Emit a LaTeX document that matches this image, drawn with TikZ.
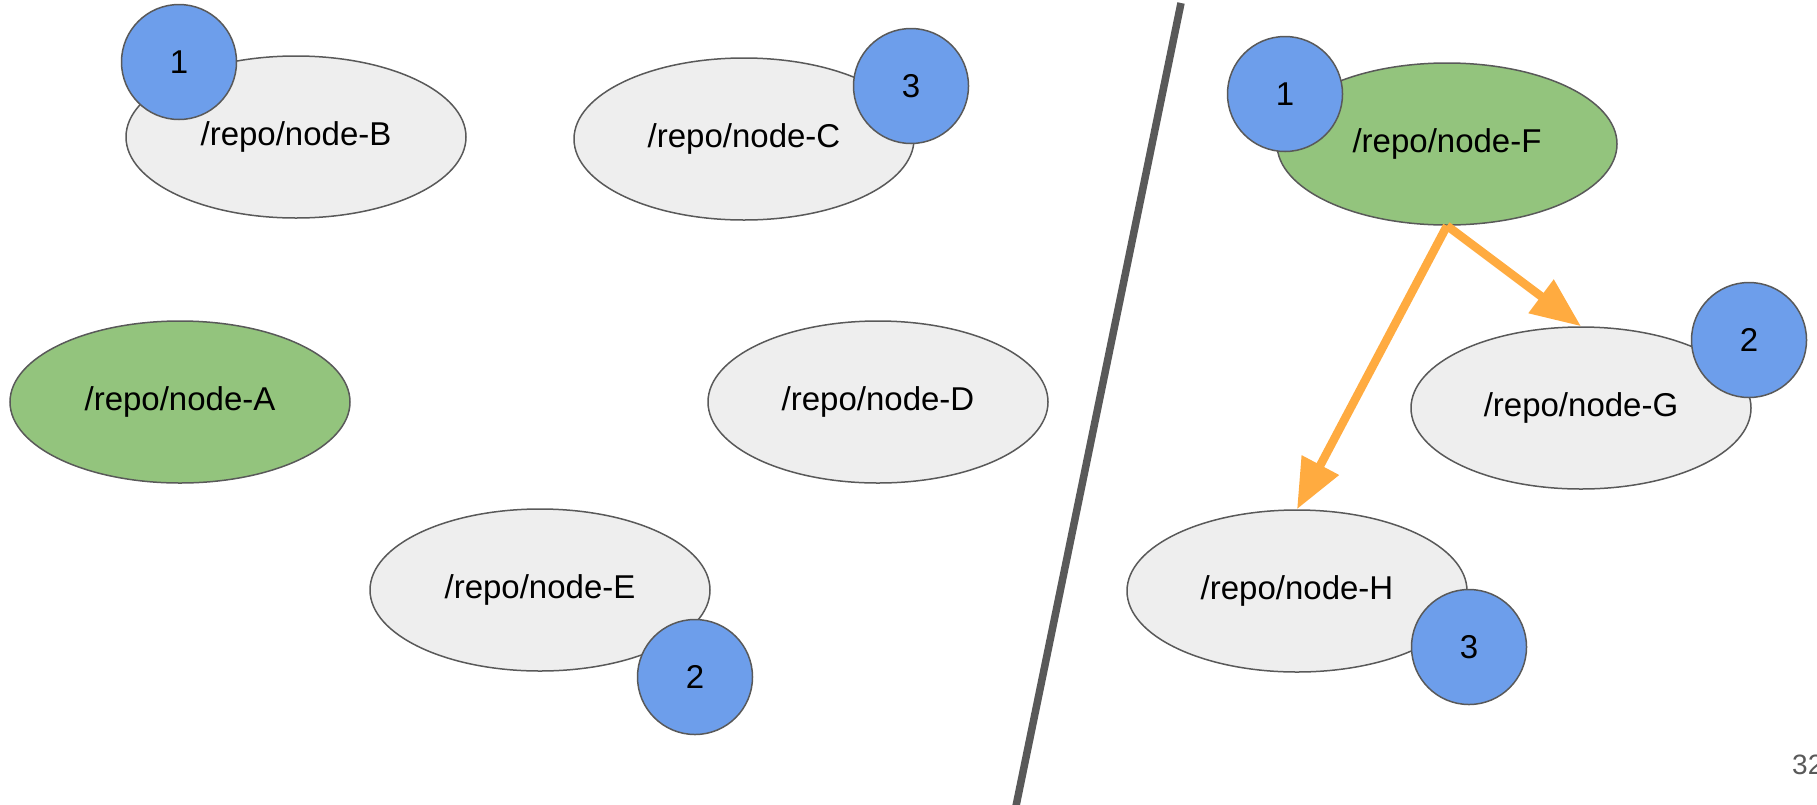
\documentclass[tikz,border=0pt]{standalone}
\usepackage{fontspec}
\setmainfont{Liberation Sans}
\usepackage{tikz}
\usetikzlibrary{arrows.meta,shapes.geometric}
\definecolor{gfill}{HTML}{EEEEEE}
\definecolor{gline}{HTML}{595959}
\definecolor{grn}{HTML}{93C47D}
\definecolor{blu}{HTML}{6D9EEB}
\definecolor{org}{HTML}{FFAB40}
\tikzset{
  nd/.style  ={ellipse,draw=gline,line width=1.5pt,fill=gfill,minimum width=340pt,minimum height=162pt,inner sep=0pt,font=\fontsize{33}{40}\selectfont},
  hot/.style ={nd,fill=grn},
  num/.style ={circle,draw=gline,line width=1.5pt,fill=blu,minimum size=115pt,inner sep=0pt,font=\fontsize{33}{40}\selectfont},
  divider/.style={gline,line width=7.5pt},
  ar/.style={-{Triangle[length=50pt,width=40pt]},draw=org,line width=8.5pt},
}

\begin{document}
\begin{tikzpicture}[x=1pt,y=-1pt]
  \useasboundingbox (0,0) rectangle (1817,804);
  % left half
  \node[hot] (nA) at (180,402){/repo/node-A};
  \node[nd]  (nB) at (296,137){/repo/node-B};
  \node[nd]  (nC) at (744,139){/repo/node-C};
  \node[nd]  (nD) at (878,402){/repo/node-D};
  \node[nd]  (nE) at (540,590){/repo/node-E};
  \node[num] (b1) at (179,62){1};
  \node[num] (c3) at (911,86){3};
  \node[num] (e2) at (695,677){2};
  % divider
  \coordinate (dtop) at (1181,3);
  \coordinate (dbot) at (1016,806);
  \draw[divider] (dtop)--(dbot);
  % right half
  \node[hot] (nF) at (1447,144){/repo/node-F};
  \node[nd]  (nG) at (1581,408){/repo/node-G};
  \node[nd]  (nH) at (1297,591){/repo/node-H};
  \draw[ar] (nF.south)--(nG.north);
  \draw[ar] (nF.south)--(nH.north);
  \node[num] (f1) at (1285,94){1};
  \node[num] (g2) at (1749,340){2};
  \node[num] (h3) at (1469,647){3};
  % page number
  \node[anchor=base west,inner sep=0pt,text=gline,font=\fontsize{28}{34}\selectfont] (pg) at (1792,774){32};
\end{tikzpicture}
\end{document}
